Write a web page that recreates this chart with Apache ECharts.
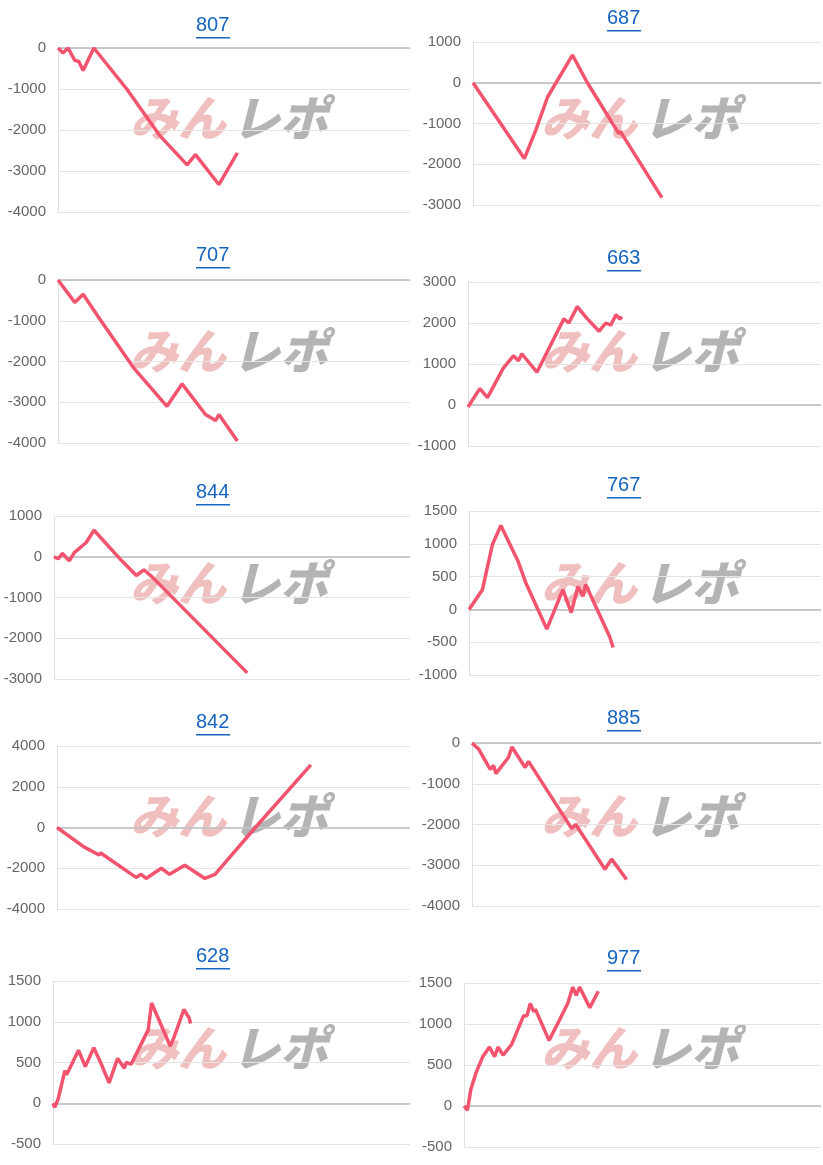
<!DOCTYPE html>
<html>
<head>
<meta charset="utf-8">
<script src="https://cdn.jsdelivr.net/npm/echarts@6/dist/echarts.min.js"></script>
<style>
  html, body { margin: 0; padding: 0; background: #fff; }
  #chart { width: 823px; height: 1165px; }
</style>
</head>
<body>
<div id="chart"></div>
<script>
// 台番号
const titles = ['807', '687', '707', '663', '844', '767', '842', '885', '628', '977'];

// 差枚推移 [ゲーム位置, 差枚]
const data807 = [[0,0],[15,-120],[30,0],[50,-300],[62,-330],[75,-550],[107,0],[205,-1000],[305,-2150],[385,-2850],[410,-2600],[480,-3330],[535,-2560]];
const data687 = [[0,0],[155,-1860],[190,-1150],[225,-350],[300,680],[345,0],[440,-1250],[445,-1200],[570,-2820]];
const data707 = [[0,0],[50,-550],[75,-350],[120,-900],[225,-2150],[325,-3100],[370,-2550],[440,-3300],[470,-3450],[480,-3300],[535,-3950]];
const data663 = [[0,-50],[35,400],[58,180],[105,900],[135,1200],[150,1080],[160,1250],[205,800],[285,2100],[300,2000],[325,2400],[355,2100],[390,1800],[410,2000],[425,1950],[440,2200],[452,2100],[458,2150]];
const data844 = [[0,0],[12,-50],[25,80],[45,-100],[60,100],[95,350],[118,650],[200,-100],[243,-460],[265,-320],[290,-500],[570,-2850]];
const data767 = [[0,0],[40,300],[70,990],[95,1280],[145,750],[170,400],[232,-300],[280,300],[305,-50],[325,350],[340,200],[348,380],[420,-420],[430,-580]];
const data842 = [[0,0],[80,-950],[125,-1350],[130,-1250],[235,-2450],[250,-2300],[265,-2500],[310,-2000],[335,-2300],[380,-1850],[440,-2500],[470,-2300],[590,0],[755,3070]];
const data885 = [[0,0],[20,-150],[55,-650],[65,-550],[72,-750],[110,-350],[120,-100],[160,-600],[170,-450],[300,-2100],[312,-2000],[400,-3100],[420,-2850],[465,-3350]];
const data628 = [[0,0],[5,-50],[15,50],[35,400],[40,350],[75,650],[95,450],[120,680],[140,500],[165,250],[190,550],[210,430],[215,500],[230,480],[280,900],[290,1230],[345,700],[355,800],[385,1150],[400,1050],[405,980]];
const data977 = [[0,0],[10,-50],[20,200],[35,400],[55,600],[75,720],[90,600],[100,720],[115,620],[140,750],[175,1100],[185,1100],[195,1250],[205,1150],[210,1180],[250,800],[275,1000],[305,1250],[320,1450],[330,1350],[340,1450],[370,1200],[395,1400]];

const seriesData = [data807, data687, data707, data663, data844, data767, data842, data885, data628, data977];

// y軸 [min, max, interval]
const yRanges = [[-4000,0,1000],[-3000,1000,1000],[-4000,0,1000],[-1000,3000,1000],[-3000,1000,1000],[-1000,1500,500],[-4000,4000,2000],[-4000,0,1000],[-500,1500,500],[-500,1500,500]];

// レイアウト (left, top, bottom, titleY)
const panels = [
  [58, 48, 212, 27], [473, 42, 205, 20],
  [58, 280, 443, 257], [468, 282, 446, 260],
  [54, 516, 679, 494], [469, 511, 675, 487],
  [57, 746, 909, 724], [472, 743, 906, 720],
  [53, 981, 1144, 958], [464, 983, 1147, 960]
];

const chart = echarts.init(document.getElementById('chart'));
const grid = [], xAxis = [], yAxis = [], series = [], graphic = [];

panels.forEach((p, i) => {
  const right = i % 2 === 0 ? 410 : 821;
  const colX = i % 2 === 0 ? 0 : 411;
  const panelTop = Math.floor(i / 2) * 232.5;
  grid.push({ left: p[0], top: p[1], width: right - p[0], height: p[2] - p[1] });
  xAxis.push({ gridIndex: i, type: 'value', min: 0, max: 1050, show: false });
  yAxis.push({
    gridIndex: i, type: 'value', min: yRanges[i][0], max: yRanges[i][1], interval: yRanges[i][2],
    axisLine: { show: true, lineStyle: { color: '#e0e0e0' } },
    axisTick: { show: false },
    axisLabel: { color: '#666', fontSize: 15, fontFamily: 'Liberation Sans, Arial', margin: 12,
      formatter: v => String(v) },
    splitLine: { lineStyle: { color: '#e4e4e4' } }
  });
  series.push({
    type: 'line', xAxisIndex: i, yAxisIndex: i, data: seriesData[i],
    showSymbol: false, z: 5,
    lineStyle: { color: '#f2546f', width: 3.5 },
    markLine: {
      silent: true, symbol: 'none', label: { show: false },
      lineStyle: { color: '#bdbdbd', type: 'solid', width: 1.5 },
      data: [{ yAxis: 0 }]
    }
  });
  // タイトル（リンク風）
  const tx = colX + 214;
  graphic.push({
    type: 'text', left: tx - 18, top: p[3] - 12,
    style: { text: titles[i], fill: '#1565c0', font: '20px "Liberation Sans", Arial' }
  });
  graphic.push({
    type: 'rect', shape: { x: tx - 18, y: p[3] + 10, width: 34, height: 1.5 },
    style: { fill: '#1565c0' }
  });
  // 透かし
  graphic.push({
    type: 'text', left: colX + 130, top: panelTop + 94, z: 0,
    style: { text: 'みん', fill: 'rgba(215,90,90,0.38)', font: 'italic 900 48px "Noto Sans CJK JP"' }
  });
  graphic.push({
    type: 'text', left: colX + 232, top: panelTop + 94, z: 0,
    style: { text: 'レポ', fill: 'rgba(140,140,140,0.65)', font: 'italic 900 48px "Noto Sans CJK JP"' }
  });
});

chart.setOption({ animation: false, grid, xAxis, yAxis, series, graphic });
</script>
</body>
</html>
